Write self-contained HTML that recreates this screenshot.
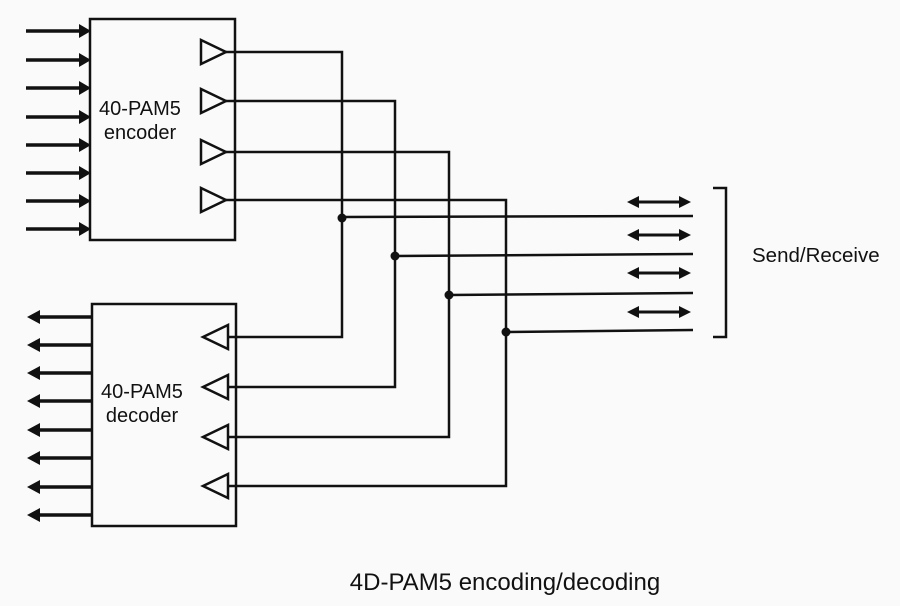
<!DOCTYPE html>
<html><head><meta charset="utf-8"><style>
html,body{margin:0;padding:0;background:#fafafa;}
svg{display:block;}
text{font-family:"Liberation Sans",Arial,sans-serif;fill:#111;}
</style></head><body>
<svg width="900" height="606" viewBox="0 0 900 606" xmlns="http://www.w3.org/2000/svg">
<g stroke="#111" stroke-width="2.5" fill="none">
<rect x="90" y="19" width="145" height="221"/>
<rect x="92" y="304" width="144" height="222"/>
</g>
<g stroke="#111" stroke-width="3.5">
<line x1="26" y1="31" x2="82" y2="31"/><line x1="26" y1="60" x2="82" y2="60"/>
<line x1="26" y1="88" x2="82" y2="88"/><line x1="26" y1="117" x2="82" y2="117"/>
<line x1="26" y1="145" x2="82" y2="145"/><line x1="26" y1="173" x2="82" y2="173"/>
<line x1="26" y1="201" x2="82" y2="201"/><line x1="26" y1="229" x2="82" y2="229"/>
</g>
<g fill="#111">
<path d="M79,24 L91,31 L79,38Z"/><path d="M79,53 L91,60 L79,67Z"/>
<path d="M79,81 L91,88 L79,95Z"/><path d="M79,110 L91,117 L79,124Z"/>
<path d="M79,138 L91,145 L79,152Z"/><path d="M79,166 L91,173 L79,180Z"/>
<path d="M79,194 L91,201 L79,208Z"/><path d="M79,222 L91,229 L79,236Z"/>
</g>
<g stroke="#111" stroke-width="3.5">
<line x1="36" y1="317" x2="92" y2="317"/><line x1="36" y1="345" x2="92" y2="345"/>
<line x1="36" y1="373" x2="92" y2="373"/><line x1="36" y1="401" x2="92" y2="401"/>
<line x1="36" y1="430" x2="92" y2="430"/><line x1="36" y1="458" x2="92" y2="458"/>
<line x1="36" y1="487" x2="92" y2="487"/><line x1="36" y1="515" x2="92" y2="515"/>
</g>
<g fill="#111">
<path d="M40,310 L27,317 L40,324Z"/><path d="M40,338 L27,345 L40,352Z"/>
<path d="M40,366 L27,373 L40,380Z"/><path d="M40,394 L27,401 L40,408Z"/>
<path d="M40,423 L27,430 L40,437Z"/><path d="M40,451 L27,458 L40,465Z"/>
<path d="M40,480 L27,487 L40,494Z"/><path d="M40,508 L27,515 L40,522Z"/>
</g>
<g stroke="#111" stroke-width="2.5" fill="none">
<path d="M201,40 L226,52 L201,64Z"/><path d="M201,89 L226,101 L201,113Z"/>
<path d="M201,140 L226,152 L201,164Z"/><path d="M201,188 L226,200 L201,212Z"/>
<path d="M228,325 L203,337 L228,349Z"/><path d="M228,375 L203,387 L228,399Z"/>
<path d="M228,425 L203,437 L228,449Z"/><path d="M228,474 L203,486 L228,498Z"/>
</g>
<g stroke="#111" stroke-width="2.5" fill="none">
<path d="M226,52 H342 V337 H228"/>
<path d="M226,101 H395 V387 H228"/>
<path d="M226,152 H449 V437 H228"/>
<path d="M226,200 H506 V486 H228"/>
<line x1="342" y1="217" x2="693" y2="216"/>
<line x1="395" y1="256" x2="693" y2="254"/>
<line x1="449" y1="295" x2="693" y2="293"/>
<line x1="506" y1="332" x2="693" y2="330"/>
</g>
<g fill="#111">
<circle cx="342" cy="218" r="4.5"/><circle cx="395" cy="256" r="4.5"/>
<circle cx="449" cy="295" r="4.5"/><circle cx="506" cy="332" r="4.5"/>
</g>
<g stroke="#111" stroke-width="3">
<line x1="636" y1="202" x2="682" y2="202"/><line x1="636" y1="235" x2="682" y2="235"/>
<line x1="636" y1="273" x2="682" y2="273"/><line x1="636" y1="312" x2="682" y2="312"/>
</g>
<g fill="#111">
<path d="M639,196 L627,202 L639,208Z M679,196 L691,202 L679,208Z"/>
<path d="M639,229 L627,235 L639,241Z M679,229 L691,235 L679,241Z"/>
<path d="M639,267 L627,273 L639,279Z M679,267 L691,273 L679,279Z"/>
<path d="M639,306 L627,312 L639,318Z M679,306 L691,312 L679,318Z"/>
</g>
<path d="M713,188 H726 V337 H713" stroke="#111" stroke-width="2.5" fill="none"/>
<text x="752" y="262" font-size="20.5">Send/Receive</text>
<text x="140" y="115" font-size="20" text-anchor="middle">40-PAM5</text>
<text x="140" y="139" font-size="20" text-anchor="middle">encoder</text>
<text x="142" y="398" font-size="20" text-anchor="middle">40-PAM5</text>
<text x="142" y="422" font-size="20" text-anchor="middle">decoder</text>
<text x="505" y="590" font-size="24" text-anchor="middle">4D-PAM5 encoding/decoding</text>
</svg>
</body></html>
